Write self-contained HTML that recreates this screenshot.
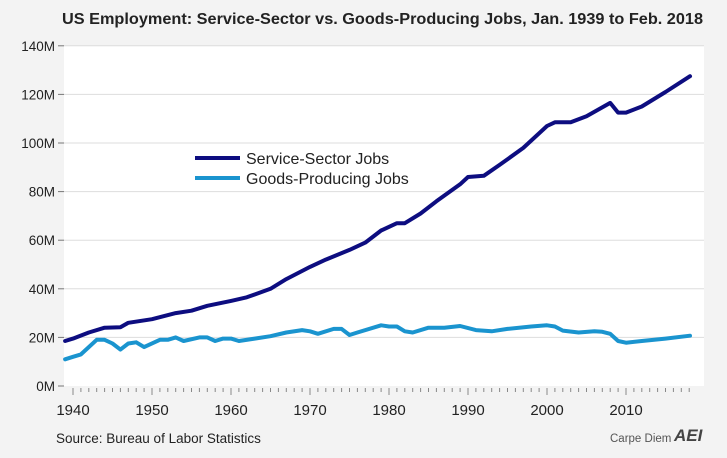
<!DOCTYPE html>
<html><head><meta charset="utf-8"><style>
body{margin:0;background:#f3f3f3;}
svg{display:block;font-family:"Liberation Sans",sans-serif;}
</style></head><body>
<svg id="chart" width="727" height="458">
<rect x="0" y="0" width="727" height="458" fill="#f3f3f3"/>
<rect x="64" y="46" width="640" height="340" fill="#ffffff"/>
<text x="62" y="24" font-size="15.5" font-weight="bold" fill="#222" textLength="641" lengthAdjust="spacingAndGlyphs">US Employment: Service-Sector vs. Goods-Producing Jobs, Jan. 1939 to Feb. 2018</text>
<g id="grid"></g><g id="axes"></g><g id="series"></g>
<g>
<line x1="195" y1="158" x2="240" y2="158" stroke="#0d0d80" stroke-width="4"/>
<text x="246" y="164" font-size="16" fill="#222">Service-Sector Jobs</text>
<line x1="195" y1="178" x2="240" y2="178" stroke="#1a94cf" stroke-width="4"/>
<text x="246" y="184" font-size="16" fill="#222">Goods-Producing Jobs</text>
</g>
<text x="56" y="443" font-size="13.5" fill="#222">Source: Bureau of Labor Statistics</text>
<text x="610" y="442" font-size="11.5" fill="#555">Carpe Diem</text>
<text x="674" y="441" font-size="17" font-weight="bold" font-style="italic" fill="#444">AEI</text>
</svg>
<script>
const serviceYears=[1939,1940,1942,1944,1946,1947,1950,1953,1955,1957,1960,1962,1965,1967,1970,1972,1975,1977,1979,1981,1982,1984,1986,1989,1990,1992,1994,1997,2000,2001,2003,2005,2008,2009,2010,2012,2015,2018.1];
const serviceValues=[18.5,19.5,22,24,24.2,26,27.5,30,31,33,35,36.5,40,44,49,52,56,59,64,67,67,71,76,83,86,86.5,91,98,107,108.5,108.5,111,116.5,112.5,112.5,115,121,127.5];
const goodsYears=[1939,1940,1941,1943,1944,1945,1946,1947,1948,1949,1951,1952,1953,1954,1956,1957,1958,1959,1960,1961,1963,1965,1967,1969,1970,1971,1973,1974,1975,1976,1979,1980,1981,1982,1983,1985,1987,1989,1991,1993,1995,1998,2000,2001,2002,2004,2006,2007,2008,2009,2010,2012,2015,2018.1];
const goodsValues=[11,12,13,19,19,17.5,15,17.5,18,16,19,19,20,18.5,20,20,18.5,19.5,19.5,18.5,19.5,20.5,22,23,22.5,21.5,23.5,23.5,21,22,25,24.5,24.5,22.5,22,24,24,24.7,23,22.5,23.5,24.5,25,24.5,22.8,22,22.5,22.3,21.5,18.5,17.8,18.5,19.5,20.7];
const yTicks=[0,20,40,60,80,100,120,140];
const yTickLabels=["0M","20M","40M","60M","80M","100M","120M","140M"];
const xTicks=[1940,1950,1960,1970,1980,1990,2000,2010];
const xTickLabels=["1940","1950","1960","1970","1980","1990","2000","2010"];
const NS="http://www.w3.org/2000/svg";
const xS=y=>73+(y-1940)*7.9;
const yS=v=>386-v*2.43;
function mk(t,a,p){const e=document.createElementNS(NS,t);for(const k in a)e.setAttribute(k,a[k]);p.appendChild(e);return e;}
const grid=document.getElementById('grid'),axes=document.getElementById('axes'),series=document.getElementById('series');
yTicks.forEach((v,i)=>{
 if(v>0){const g=mk('line',{x1:64,x2:704,y1:yS(v),y2:yS(v),stroke:'#dddddd','stroke-width':1},grid);
 
 }
 const tk=mk('line',{x1:58,x2:64,y1:yS(v),y2:yS(v),stroke:'#777'},axes);
 
 
 const t=mk('text',{x:55,y:yS(v)+5,'text-anchor':'end','font-size':13.5,fill:'#222'},axes);
 t.textContent=yTickLabels[i];
 
 
});
for(let y=1940;y<=2018;y++){
 const major=y%10===0;
 const l=mk('line',{x1:xS(y),x2:xS(y),y1:388,y2:major?395:392,stroke:'#888','stroke-width':1},axes);
 
 
}
xTicks.forEach((y,i)=>{
 const t=mk('text',{x:xS(y),y:415,'text-anchor':'middle','font-size':15,fill:'#222'},axes);
 t.textContent=xTickLabels[i];
 
 
});
function line(xs,vs,color,name){
 const d=xs.map((x,i)=>(i?'L':'M')+xS(x).toFixed(1)+','+yS(vs[i]).toFixed(1)).join('');
 const p=mk('path',{d:d,fill:'none',stroke:color,'stroke-width':4,'stroke-linejoin':'round','stroke-linecap':'round'},series);
 
 
}
line(goodsYears,goodsValues,'#1a94cf','goods-producing-line');
line(serviceYears,serviceValues,'#0d0d80','service-sector-line');
</script>
</body></html>
